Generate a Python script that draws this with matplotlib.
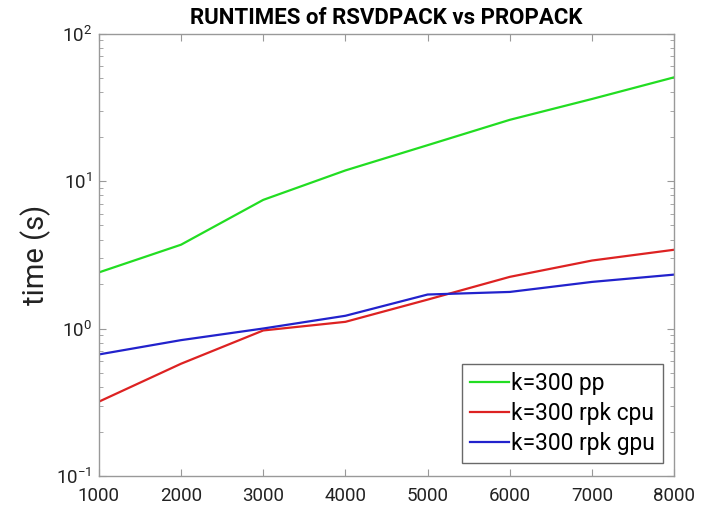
import matplotlib
matplotlib.use("Agg")
import matplotlib.pyplot as plt
from matplotlib.ticker import LogLocator, NullFormatter

plt.rcParams['font.family'] = ['Roboto', 'DejaVu Sans']
plt.rcParams['mathtext.fontset'] = 'custom'
plt.rcParams['mathtext.rm'] = 'Roboto'
plt.rcParams['mathtext.it'] = 'Roboto'

x = [1000, 2000, 3000, 4000, 5000, 6000, 7000, 8000]
pp = [2.40, 3.7, 7.45, 11.8, 17.5, 26.0, 36.0, 50.5]
rpk_cpu = [0.319, 0.577, 0.97, 1.11, 1.57, 2.24, 2.89, 3.42]
rpk_gpu = [0.667, 0.834, 1.0, 1.22, 1.70, 1.77, 2.07, 2.32]
labels = ['k=300 pp', 'k=300 rpk cpu', 'k=300 rpk gpu']
colors = ['#22dd22', '#dd2222', '#2222cc']

fig = plt.figure(figsize=(7.06, 5.08), dpi=100)
ax = fig.add_axes([0.140, 0.063, 0.815, 0.871])

for ys, lab, c in zip([pp, rpk_cpu, rpk_gpu], labels, colors):
    ax.plot(x, ys, color=c, lw=1.6, label=lab)

ax.set_yscale('log')
ax.set_xlim(1000, 8000)
ax.set_ylim(0.1, 100)
ax.set_xticks(x)
ax.set_xticklabels([str(v) for v in x])
ax.yaxis.set_major_locator(LogLocator(base=10, numticks=10))
ax.yaxis.set_minor_locator(LogLocator(base=10, subs=range(2, 10), numticks=10))
ax.yaxis.set_minor_formatter(NullFormatter())

for s in ax.spines.values():
    s.set_color('#999999')
    s.set_linewidth(1.0)
ax.tick_params(which='both', direction='in', top=True, right=True, color='#999999', labelsize=13.5, labelcolor='#222222')
ax.tick_params(which='major', length=5)
ax.tick_params(which='minor', length=3)
ax.tick_params(axis='x', pad=8)
ax.tick_params(axis='y', pad=5)

ax.set_ylabel('time (s)', fontsize=21, color='#222222', labelpad=4)
ax.set_title('RUNTIMES of RSVDPACK vs PROPACK', fontsize=16, fontweight='bold', pad=7)

leg = ax.legend(loc='lower right', bbox_to_anchor=(0.98, 0.03), fontsize=16.4, frameon=True, fancybox=False,
                handlelength=1.7, handletextpad=0.1, borderpad=0.35, labelspacing=0.3, borderaxespad=0)
leg.get_frame().set_edgecolor('#444444')
leg.get_frame().set_linewidth(1.0)

fig.savefig('out.png', dpi=100)
